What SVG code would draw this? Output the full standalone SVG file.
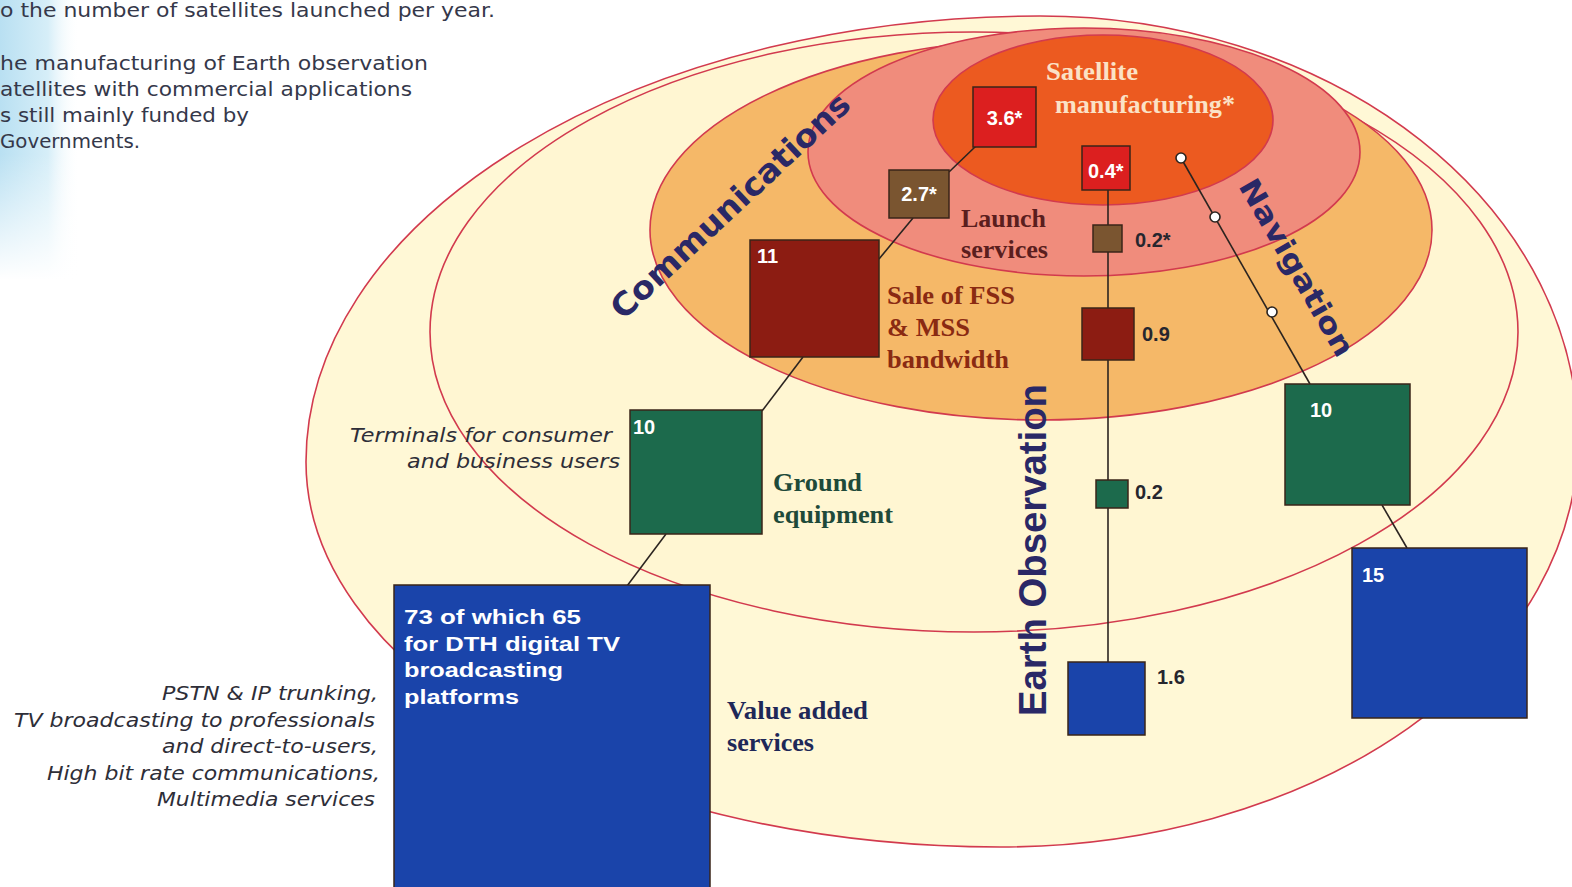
<svg xmlns="http://www.w3.org/2000/svg" width="1572" height="887" viewBox="0 0 1572 887">
<defs>
<linearGradient id="blueH" x1="0" y1="0" x2="1" y2="0">
<stop offset="0" stop-color="#b9e0f2"/>
<stop offset="0.6" stop-color="#d6eef8"/>
<stop offset="1" stop-color="#ffffff" stop-opacity="0"/>
</linearGradient>
<linearGradient id="fadeV" x1="0" y1="0" x2="0" y2="1">
<stop offset="0.55" stop-color="#ffffff" stop-opacity="0"/>
<stop offset="1" stop-color="#ffffff" stop-opacity="1"/>
</linearGradient>
</defs>
<style>
.ell{stroke:#d23a4e;stroke-width:1.6}
.con{stroke:#2b2420;stroke-width:1.6;fill:none}
.dot{fill:#ffffff;stroke:#2b2420;stroke-width:1.6}
.box{stroke:#3a2418;stroke-width:1.5}
.num{font-family:"Liberation Sans",Arial,sans-serif;font-weight:bold;font-size:20px;fill:#ffffff}
.val{font-family:"Liberation Sans",Arial,sans-serif;font-weight:bold;font-size:20px;fill:#26262e}
.lab{font-family:"Liberation Serif","Times New Roman",serif;font-weight:bold;font-size:25px}
.note{font-family:"DejaVu Sans",Verdana,sans-serif;font-size:19px;fill:#35384a}
.it{font-family:"DejaVu Sans",Verdana,sans-serif;font-style:italic;font-size:19px;fill:#2e2e38}
.sector{font-family:"DejaVu Sans",Verdana,sans-serif;font-weight:bold;fill:#2a2866}
</style>
<rect x="0" y="0" width="1572" height="887" fill="#ffffff"/>
<rect x="0" y="0" width="80" height="280" fill="url(#blueH)"/>
<rect x="0" y="0" width="80" height="280" fill="url(#fadeV)"/>
<g id="intro-text">
<text class="note" x="0" y="17" textLength="495" lengthAdjust="spacingAndGlyphs">o the number of satellites launched per year.</text>
<text class="note" x="0" y="70" textLength="428" lengthAdjust="spacingAndGlyphs">he manufacturing of Earth observation</text>
<text class="note" x="0" y="96" textLength="412" lengthAdjust="spacingAndGlyphs">atellites with commercial applications</text>
<text class="note" x="0" y="122" textLength="249" lengthAdjust="spacingAndGlyphs">s still mainly funded by</text>
<text class="note" x="0" y="148" textLength="140" lengthAdjust="spacingAndGlyphs">Governments.</text>
</g>
<g id="rings">
<path id="ring-value-added" class="ell" fill="#fff8d6" d="M306,462 A734,446 0 0 1 1040,16 A538,424 0 0 1 1578,440 A578,407 0 0 1 1000,847 A694,385 0 0 1 306,462 Z"/>
<ellipse id="ring-ground" class="ell" cx="974" cy="332" rx="544" ry="300" fill="#fff6d2"/>
<ellipse id="ring-bandwidth" class="ell" cx="1041" cy="230" rx="391" ry="190" fill="#f5b868"/>
<ellipse id="ring-launch" class="ell" cx="1084" cy="152" rx="276" ry="124" fill="#f08c7c"/>
<ellipse id="ring-manufacturing" class="ell" cx="1103" cy="120" rx="170" ry="85" fill="#ec5a20"/>
</g>
<g id="sector-labels">
<text class="sector" font-size="32" textLength="314" lengthAdjust="spacingAndGlyphs" transform="translate(623,321) rotate(-43)">Communications</text>
<text class="sector" font-size="29" textLength="200" lengthAdjust="spacingAndGlyphs" transform="translate(1238,186) rotate(60)">Navigation</text>
<text class="sector" font-size="38" textLength="332" lengthAdjust="spacingAndGlyphs" transform="translate(1046,716) rotate(-90)" style="font-family:'Liberation Sans',Arial,sans-serif">Earth Observation</text>
</g>
<g id="connectors">
<line class="con" x1="976" y1="146" x2="949" y2="172"/>
<line class="con" x1="913" y1="218" x2="879" y2="259"/>
<line class="con" x1="803" y1="357" x2="762" y2="411"/>
<line class="con" x1="666" y1="534" x2="627" y2="586"/>
<line class="con" x1="1108" y1="190" x2="1108" y2="662"/>
<line class="con" x1="1181" y1="158" x2="1310" y2="384"/>
<line class="con" x1="1382" y1="505" x2="1407" y2="548"/>
<circle class="dot" cx="1181" cy="158" r="5"/>
<circle class="dot" cx="1215" cy="217" r="5"/>
<circle class="dot" cx="1272" cy="312" r="5"/>
</g>
<g id="node-manuf-comm"><rect class="box" x="973" y="87" width="63" height="60" fill="#dc1f1f"/><text class="num" x="1004.5" y="125" text-anchor="middle">3.6*</text></g>
<g id="node-launch-comm"><rect class="box" x="889" y="170" width="60" height="48" fill="#7a5530"/><text class="num" x="919" y="201" text-anchor="middle">2.7*</text></g>
<g id="node-bandwidth-comm"><rect class="box" x="750" y="240" width="129" height="117" fill="#8c1c12"/><text class="num" x="757" y="263">11</text></g>
<g id="node-ground-comm"><rect class="box" x="630" y="410" width="132" height="124" fill="#1c6a4c"/><text class="num" x="633" y="434">10</text></g>
<g id="node-value-comm"><rect class="box" x="394" y="585" width="316" height="310" fill="#1a44aa"/>
<text class="num" font-size="21" x="404" y="624" textLength="177" lengthAdjust="spacingAndGlyphs">73 of which 65</text>
<text class="num" font-size="21" x="404" y="651" textLength="216" lengthAdjust="spacingAndGlyphs">for DTH digital TV</text>
<text class="num" font-size="21" x="404" y="677" textLength="159" lengthAdjust="spacingAndGlyphs">broadcasting</text>
<text class="num" font-size="21" x="404" y="704" textLength="115" lengthAdjust="spacingAndGlyphs">platforms</text></g>
<g id="node-manuf-eo"><rect class="box" x="1082" y="146" width="48" height="44" fill="#dc1f1f"/><text class="num" x="1088" y="178">0.4*</text></g>
<g id="node-launch-eo"><rect class="box" x="1093" y="225" width="29" height="27" fill="#7a5530"/><text class="val" x="1135" y="247">0.2*</text></g>
<g id="node-bandwidth-eo"><rect class="box" x="1082" y="308" width="52" height="52" fill="#8c1c12"/><text class="val" x="1142" y="341">0.9</text></g>
<g id="node-ground-eo"><rect class="box" x="1096" y="480" width="32" height="28" fill="#1c6a4c"/><text class="val" x="1135" y="499">0.2</text></g>
<g id="node-value-eo"><rect class="box" x="1068" y="662" width="77" height="73" fill="#1a44aa"/><text class="val" x="1157" y="684">1.6</text></g>
<g id="node-ground-nav"><rect class="box" x="1285" y="384" width="125" height="121" fill="#1c6a4c"/><text class="num" x="1310" y="417">10</text></g>
<g id="node-value-nav"><rect class="box" x="1352" y="548" width="175" height="170" fill="#1a44aa"/><text class="num" x="1362" y="582">15</text></g>
<g id="ring-labels">
<text class="lab" fill="#fbe2c6" x="1046" y="80" textLength="92" lengthAdjust="spacingAndGlyphs">Satellite</text>
<text class="lab" fill="#fbe2c6" x="1055" y="113" textLength="180" lengthAdjust="spacingAndGlyphs">manufacturing*</text>
<text class="lab" fill="#5a1e1e" x="961" y="227" textLength="85" lengthAdjust="spacingAndGlyphs">Launch</text>
<text class="lab" fill="#5a1e1e" x="961" y="258" textLength="87" lengthAdjust="spacingAndGlyphs">services</text>
<text class="lab" fill="#8a2a12" x="887" y="304" textLength="128" lengthAdjust="spacingAndGlyphs">Sale of FSS</text>
<text class="lab" fill="#8a2a12" x="887" y="336" textLength="83" lengthAdjust="spacingAndGlyphs">&amp; MSS</text>
<text class="lab" fill="#8a2a12" x="887" y="368" textLength="122" lengthAdjust="spacingAndGlyphs">bandwidth</text>
<text class="lab" fill="#1e4a3a" x="773" y="491" textLength="89" lengthAdjust="spacingAndGlyphs">Ground</text>
<text class="lab" fill="#1e4a3a" x="773" y="523" textLength="120" lengthAdjust="spacingAndGlyphs">equipment</text>
<text class="lab" fill="#1e2858" x="727" y="719" textLength="141" lengthAdjust="spacingAndGlyphs">Value added</text>
<text class="lab" fill="#1e2858" x="727" y="751" textLength="87" lengthAdjust="spacingAndGlyphs">services</text>
</g>
<g id="side-notes">
<text class="it" x="612" y="442" text-anchor="end" textLength="262" lengthAdjust="spacingAndGlyphs">Terminals for consumer</text>
<text class="it" x="620" y="468" text-anchor="end" textLength="213" lengthAdjust="spacingAndGlyphs">and business users</text>
<text class="it" x="378" y="700" text-anchor="end" textLength="216" lengthAdjust="spacingAndGlyphs">PSTN &amp; IP trunking,</text>
<text class="it" x="375" y="727" text-anchor="end" textLength="361" lengthAdjust="spacingAndGlyphs">TV broadcasting to professionals</text>
<text class="it" x="378" y="753" text-anchor="end" textLength="216" lengthAdjust="spacingAndGlyphs">and direct-to-users,</text>
<text class="it" x="380" y="780" text-anchor="end" textLength="333" lengthAdjust="spacingAndGlyphs">High bit rate communications,</text>
<text class="it" x="375" y="806" text-anchor="end" textLength="218" lengthAdjust="spacingAndGlyphs">Multimedia services</text>
</g>
</svg>
